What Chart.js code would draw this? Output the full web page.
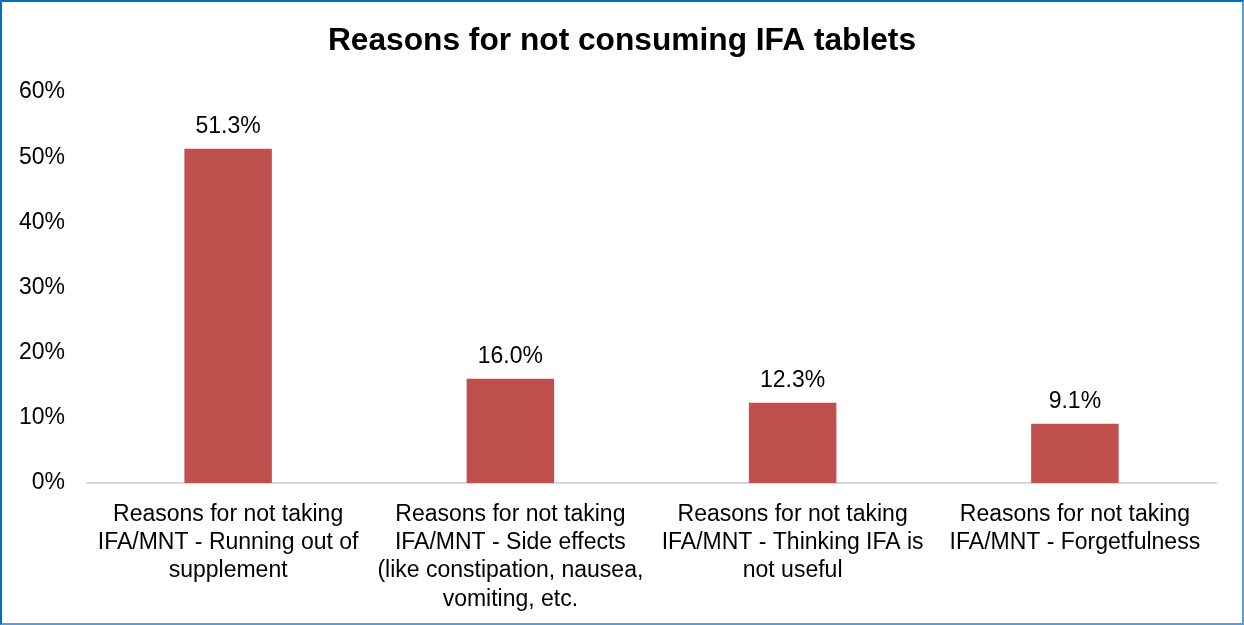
<!DOCTYPE html>
<html>
<head>
<meta charset="utf-8">
<script src="https://cdn.jsdelivr.net/npm/chart.js@4.4.1/dist/chart.umd.min.js"></script>
<style>
  html, body { margin: 0; padding: 0; background: #fff; }
  #frame {
    position: absolute; left: 0; top: 0;
    width: 1244px; height: 625px; box-sizing: border-box;
    border-left: 2px solid #0070C0; border-top: 2px solid #0070C0;
    border-right: 2px solid #5B9BD5; border-bottom: 2px solid #5B9BD5;
  }
  #chart { display: block; }
</style>
</head>
<body>
<div id="frame"><canvas id="chart" width="1240" height="621"></canvas></div>
<script>
const chartTitle = 'Reasons for not consuming IFA tablets';
const categories = [
  ["Reasons for not taking", "IFA/MNT - Running out of", "supplement"],
  ["Reasons for not taking", "IFA/MNT - Side effects", "(like constipation, nausea,", "vomiting, etc."],
  ["Reasons for not taking", "IFA/MNT - Thinking IFA is", "not useful"],
  ["Reasons for not taking", "IFA/MNT - Forgetfulness"]
];
const values = [51.3, 16.0, 12.3, 9.1];
const yTicks = [0, 10, 20, 30, 40, 50, 60];

const FONT = "'Liberation Sans', Arial, sans-serif";

// Title centred across the whole canvas, above the plot
const centredTitle = {
  id: 'centredTitle',
  afterDraw(chart) {
    const ctx = chart.ctx;
    ctx.save();
    ctx.font = "bold 31.7px " + FONT;
    ctx.fillStyle = "#000";
    ctx.textAlign = "center";
    ctx.textBaseline = "middle";
    ctx.fillText(chartTitle, chart.width / 2, 39);
    ctx.restore();
  }
};

// Writes each bar's value above it
const valueLabels = {
  id: 'valueLabels',
  afterDatasetsDraw(chart) {
    const ctx = chart.ctx;
    const meta = chart.getDatasetMeta(0);
    ctx.save();
    ctx.font = "23px " + FONT;
    ctx.fillStyle = "#000";
    ctx.textAlign = "center";
    ctx.textBaseline = "middle";
    meta.data.forEach((bar, i) => {
      ctx.fillText(values[i].toFixed(1) + "%", bar.x, bar.y - 22);
    });
    ctx.restore();
  }
};

new Chart(document.getElementById('chart'), {
  type: 'bar',
  data: {
    labels: categories,
    datasets: [{
      data: values,
      backgroundColor: '#C0504D',
      borderWidth: 0,
      categoryPercentage: 1,
      barPercentage: 0.31
    }]
  },
  options: {
    responsive: false,
    animation: false,
    layout: { padding: { left: 0, right: 26, top: 90, bottom: 0 } },
    plugins: {
      legend: { display: false },
      tooltip: { enabled: false },
      title: { display: false }
    },
    scales: {
      y: {
        min: 0, max: 60,
        afterBuildTicks(scale) { scale.ticks = yTicks.map(v => ({ value: v })); },
        afterFit(scale) { scale.width = 85; },
        grid: { display: false, drawTicks: false },
        border: { display: false },
        ticks: {
          color: '#000',
          padding: 22,
          font: { family: FONT, size: 23 },
          callback: v => v + '%'
        }
      },
      x: {
        afterFit(scale) { scale.height = 140; },
        grid: { display: false, drawTicks: false },
        border: { display: true, color: '#D9D9D9', width: 2 },
        ticks: {
          color: '#000',
          padding: 18,
          maxRotation: 0,
          autoSkip: false,
          font: { family: FONT, size: 23, lineHeight: 1.22 }
        }
      }
    }
  },
  plugins: [valueLabels, centredTitle]
});
</script>
</body>
</html>
